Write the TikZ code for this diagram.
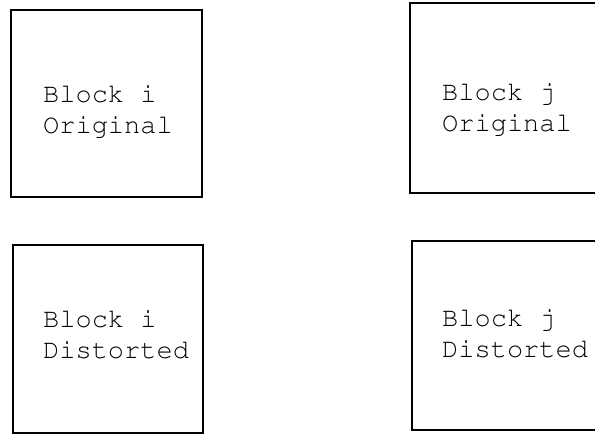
\documentclass[tikz,border=0pt]{standalone}
\usepackage[T1]{fontenc}
\usepackage{courier}
\begin{document}
\begin{tikzpicture}[x=1pt,y=-1pt,declare function={gap=31;},every node/.style={font=\fontsize{27}{31}\selectfont\ttfamily,anchor=base west,inner sep=0pt}]
		\clip (0,0) rectangle (595,434);
		\foreach \nm/\xa/\ya/\xb/\yb/\tx/\ty/\ta/\tb in {io/11/10/202/197/43/102/Block i/Original,jo/410/3/598/193/442/100/Block j/Original,id/13/245/203/433/43/327/Block i/Distorted,jd/412/241/598/430/442/326/Block j/Distorted}{
			\draw[line width=1.3pt] (\xa,\ya) rectangle (\xb,\yb);
			\node (blk\nm a) at (\tx,\ty) {\ta};
			\node (blk\nm b) at (\tx,\ty+gap) {\tb};
		}
	\end{tikzpicture}
\end{document}
